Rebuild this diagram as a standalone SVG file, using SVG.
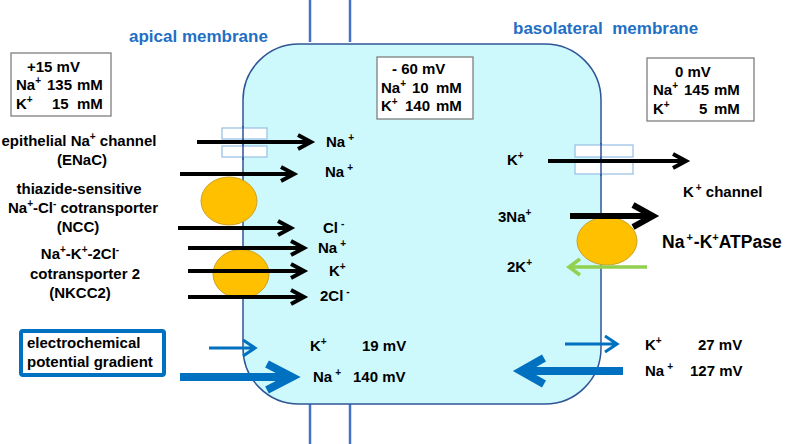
<svg xmlns="http://www.w3.org/2000/svg" width="787" height="444" viewBox="0 0 787 444">
<style>
text{font-family:"Liberation Sans",Arial,sans-serif;font-weight:bold;font-size:15px;fill:#000}
.s{font-size:10px}
.t{font-size:17px;fill:#1f6fc5}
.big{font-size:17.5px}
.big .s{font-size:11px}
.box{fill:#fff;stroke:#7f7f7f;stroke-width:1.3}
.ch{fill:#fff;stroke:#9dc3e6;stroke-width:1.3}
.el{fill:#ffc000;stroke:#c9a227;stroke-width:1}
.ab{fill:none;stroke:#000;stroke-width:4;stroke-linejoin:miter}
.ab6{fill:none;stroke:#000;stroke-width:6;stroke-linejoin:miter}
.bl{fill:none;stroke:#0070c0;stroke-width:3}
.bl8{fill:none;stroke:#0070c0;stroke-width:8}
.gr{fill:none;stroke:#92d050;stroke-width:3.5}
.vl{stroke:#4472c4;stroke-width:2.5}
</style>
<rect width="787" height="444" fill="#fff"/>
<g id="cell">
<line class="vl" x1="310" y1="0" x2="310" y2="42"/>
<line class="vl" x1="350" y1="0" x2="350" y2="42"/>
<line class="vl" x1="310" y1="404" x2="310" y2="444"/>
<line class="vl" x1="350" y1="404" x2="350" y2="444"/>
<rect x="243" y="44" width="358" height="360" rx="56" ry="56" fill="#cdf8fc" stroke="#2f5597" stroke-width="1.5"/>
</g>
<g id="titles">
<text class="t" x="129" y="42">apical membrane</text>
<text class="t" x="513" y="34" xml:space="preserve">basolateral  membrane</text>
</g>
<g id="box-lumen">
<rect class="box" x="11" y="53" width="100" height="63"/>
<text x="27" y="72">+15 mV</text>
<text x="16" y="90">Na<tspan class="s" dy="-6">+</tspan><tspan x="47" dy="6">135</tspan><tspan x="77">mM</tspan></text>
<text x="16" y="109">K<tspan class="s" dy="-6">+</tspan><tspan x="52" dy="6">15</tspan><tspan x="77">mM</tspan></text>
</g>
<g id="box-cell">
<rect class="box" x="377" y="57" width="96" height="62"/>
<text x="392" y="74">- 60 mV</text>
<text x="381" y="93">Na<tspan class="s" dy="-6">+</tspan><tspan x="412" dy="6">10</tspan><tspan x="436">mM</tspan></text>
<text x="381" y="111">K<tspan class="s" dy="-6">+</tspan><tspan x="405" dy="6">140</tspan><tspan x="436">mM</tspan></text>
</g>
<g id="box-blood">
<rect class="box" x="647" y="58" width="107" height="63"/>
<text x="675" y="77">0 mV</text>
<text x="653" y="95">Na<tspan class="s" dy="-6">+</tspan><tspan x="684" dy="6">145</tspan><tspan x="714">mM</tspan></text>
<text x="653" y="114">K<tspan class="s" dy="-6">+</tspan><tspan x="699" dy="6">5</tspan><tspan x="714">mM</tspan></text>
</g>
<g id="enac">
<rect class="ch" x="222" y="128" width="45" height="11"/>
<rect class="ch" x="222" y="146" width="45" height="11"/>
<line x1="243" y1="126" x2="243" y2="160" stroke="#2f5597" stroke-width="1.5"/>
</g>
<g id="kchannel">
<rect class="ch" x="575" y="145" width="58" height="12"/>
<rect class="ch" x="575" y="162" width="58" height="12"/>
<line x1="601" y1="143" x2="601" y2="176" stroke="#2f5597" stroke-width="1.5"/>
</g>
<g id="ncc"><ellipse class="el" cx="229" cy="201" rx="28" ry="24"/></g>
<g id="nkcc2"><ellipse class="el" cx="241" cy="274" rx="28" ry="24.5"/></g>
<g id="nakatpase"><ellipse class="el" cx="607" cy="241" rx="30" ry="24"/></g>
<g id="connectors">
<path class="ab" d="M197 142H311M298 135L311 142L298 149"/>
<path class="ab" d="M180 174H294M281 167L294 174L281 181"/>
<path class="ab" d="M178 228H291M278 221L291 228L278 235"/>
<path class="ab" d="M188 248H304M291 241L304 248L291 255"/>
<path class="ab" d="M188 271H304M291 264L304 271L291 278"/>
<path class="ab" d="M188 297H304M291 290L304 297L291 304"/>
<path class="ab" d="M548 161H686M673 154L686 161L673 168"/>
<path class="ab6" d="M570 216H653M633 205L653 216L633 227"/>
<path class="gr" d="M647 267H569M580 259L569 267L580 275"/>
<path class="bl" d="M209 348H255M243 340L255 348L243 356"/>
<path class="bl8" d="M180 377H292M267 364L292 377L267 390"/>
<path class="bl" d="M565 344H617M605 336L617 344L605 352"/>
<path class="bl8" d="M623 371H521M544 358L521 371L544 384"/>
</g>
<g id="labels-left">
<text x="79" y="146" text-anchor="middle">epithelial Na<tspan class="s" dy="-6">+</tspan><tspan dy="6"> channel</tspan></text>
<text x="82" y="165" text-anchor="middle">(ENaC)</text>
<text x="79" y="194" text-anchor="middle">thiazide-sensitive</text>
<text x="83" y="213" text-anchor="middle">Na<tspan class="s" dy="-6">+</tspan><tspan dy="6">-Cl</tspan><tspan class="s" dy="-6">-</tspan><tspan dy="6"> cotransporter</tspan></text>
<text x="78" y="232" text-anchor="middle">(NCC)</text>
<text x="80" y="259" text-anchor="middle">Na<tspan class="s" dy="-6">+</tspan><tspan dy="6">-K</tspan><tspan class="s" dy="-6">+</tspan><tspan dy="6">-2Cl</tspan><tspan class="s" dy="-6">-</tspan></text>
<text x="85" y="279" text-anchor="middle">cotransporter 2</text>
<text x="80" y="298" text-anchor="middle">(NKCC2)</text>
</g>
<g id="labels-cell">
<text x="326" y="147">Na<tspan class="s" dx="3" dy="-6">+</tspan></text>
<text x="325" y="177">Na<tspan class="s" dx="3" dy="-6">+</tspan></text>
<text x="323" y="233">Cl<tspan class="s" dx="3" dy="-6">-</tspan></text>
<text x="318" y="253">Na<tspan class="s" dx="3" dy="-6">+</tspan></text>
<text x="329" y="276">K<tspan class="s" dy="-6">+</tspan></text>
<text x="320" y="301">2Cl<tspan class="s" dx="3" dy="-6">-</tspan></text>
<text x="507" y="165">K<tspan class="s" dy="-6">+</tspan></text>
<text x="498" y="222">3Na<tspan class="s" dy="-6">+</tspan></text>
<text x="507" y="272">2K<tspan class="s" dy="-6">+</tspan></text>
<text x="310" y="351">K<tspan class="s" dy="-6">+</tspan></text>
<text x="362" y="351">19 mV</text>
<text x="313" y="382">Na<tspan class="s" dx="3" dy="-6">+</tspan></text>
<text x="353" y="382">140 mV</text>
</g>
<g id="labels-right">
<text x="683" y="197">K<tspan class="s" dx="2" dy="-6">+</tspan><tspan dy="6"> channel</tspan></text>
<text class="big" x="662" y="248">Na<tspan class="s" dx="2" dy="-7">+</tspan><tspan dx="1" dy="7">-K</tspan><tspan class="s" dy="-7">+</tspan><tspan dy="7">ATPase</tspan></text>
<text x="645" y="350">K<tspan class="s" dy="-6">+</tspan></text>
<text x="698" y="350">27 mV</text>
<text x="645" y="376">Na<tspan class="s" dx="3" dy="-6">+</tspan></text>
<text x="690" y="376">127 mV</text>
</g>
<g id="legend">
<rect x="21" y="331" width="143" height="44" rx="2" fill="#fff" stroke="#0070c0" stroke-width="4"/>
<text x="27" y="348">electrochemical</text>
<text x="27" y="367">potential gradient</text>
</g>
</svg>
